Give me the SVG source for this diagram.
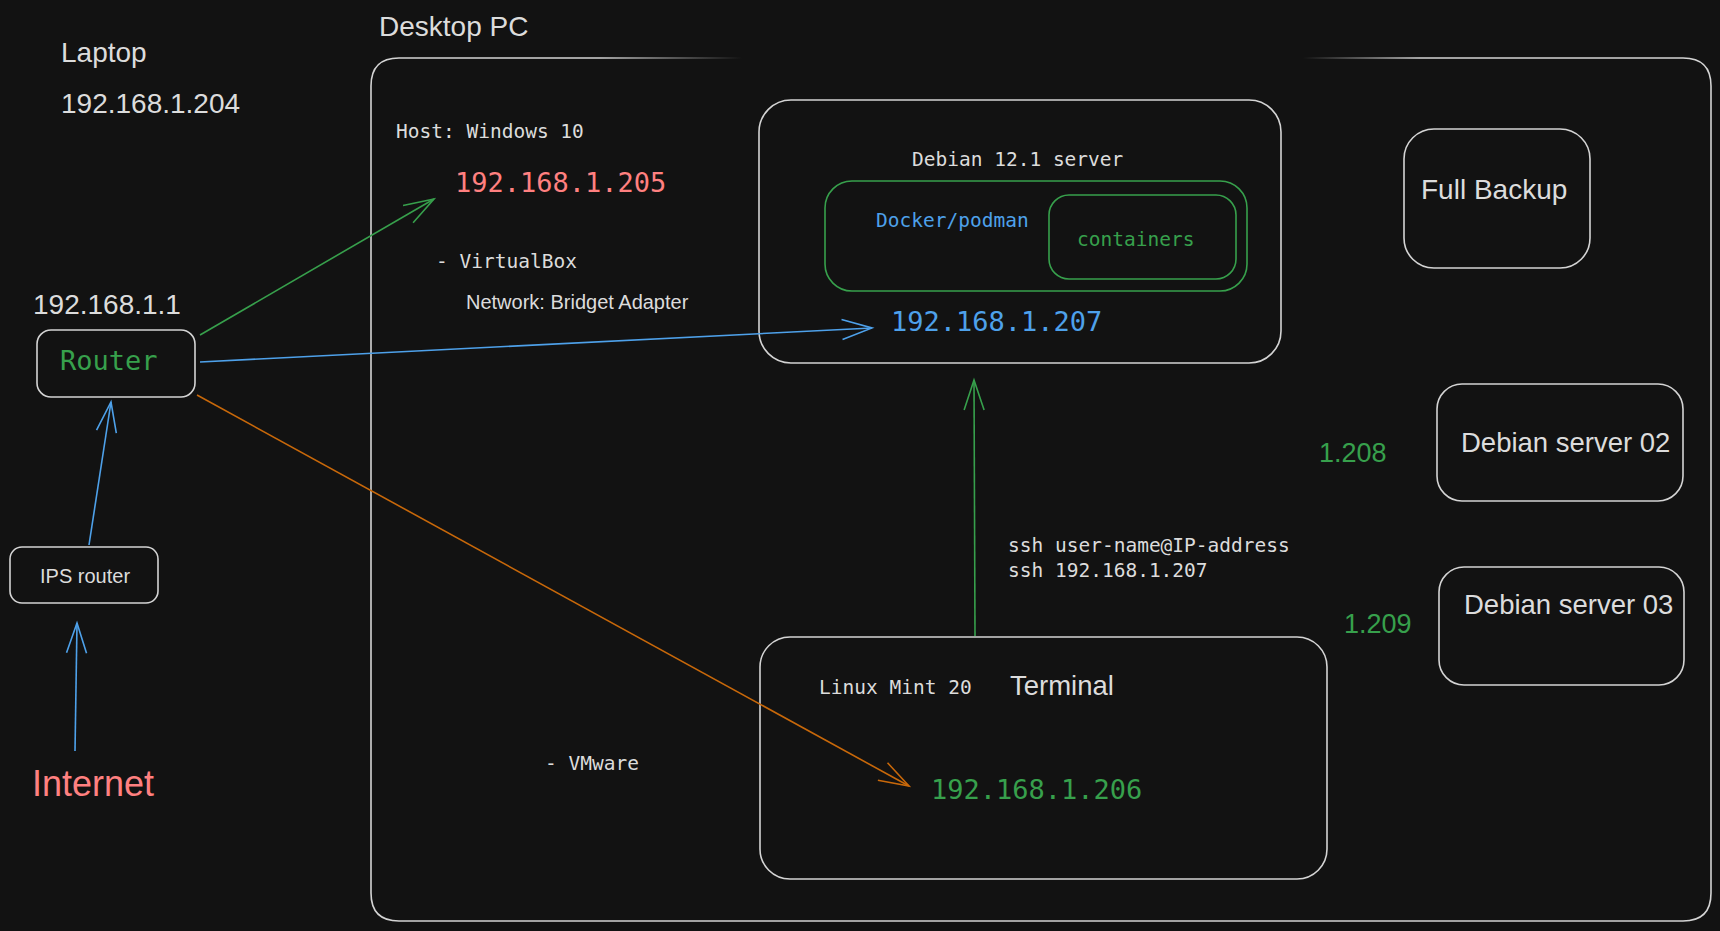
<svg xmlns="http://www.w3.org/2000/svg" width="1720" height="931" viewBox="0 0 1720 931">
<defs>
<style>
.box{fill:none;stroke:#d4d4d4;stroke-width:1.6}
.gbox{fill:none;stroke:#37a04c;stroke-width:1.6}
.sans{font-family:"Liberation Sans",Arial,sans-serif;fill:#dcdcdc}
.mono{font-family:"DejaVu Sans Mono","Liberation Mono",monospace;fill:#dcdcdc}
.ip{font-size:27px}
.small{font-size:19.5px}
.big{font-size:28px}
.mid{font-size:27.5px}
.green{fill:#37a04c}
.blue{fill:#4ea1ea}
.red{fill:#ff8080}
.c{fill:none;stroke-width:1.6}
</style>
<marker id="hb" markerUnits="userSpaceOnUse" markerWidth="34" markerHeight="26" viewBox="-31 -13 34 26" refX="0" refY="0" orient="auto">
<path d="M-30,-10 L0,0 L-30,10" fill="none" stroke="#4ea1ea" stroke-width="1.6"/>
</marker>
<marker id="hg" markerUnits="userSpaceOnUse" markerWidth="34" markerHeight="26" viewBox="-31 -13 34 26" refX="0" refY="0" orient="auto">
<path d="M-30,-10 L0,0 L-30,10" fill="none" stroke="#37a04c" stroke-width="1.6"/>
</marker>
<marker id="ho" markerUnits="userSpaceOnUse" markerWidth="34" markerHeight="26" viewBox="-31 -13 34 26" refX="0" refY="0" orient="auto">
<path d="M-30,-10 L0,0 L-30,10" fill="none" stroke="#c8680a" stroke-width="1.6"/>
</marker>
<linearGradient id="fadeOut" gradientUnits="userSpaceOnUse" x1="600" y1="0" x2="742" y2="0">
<stop offset="0" stop-color="#d4d4d4"/><stop offset="1" stop-color="#d4d4d4" stop-opacity="0"/>
</linearGradient>
<linearGradient id="fadeIn" gradientUnits="userSpaceOnUse" x1="1303" y1="0" x2="1420" y2="0">
<stop offset="0" stop-color="#d4d4d4" stop-opacity="0"/><stop offset="1" stop-color="#d4d4d4"/>
</linearGradient>
</defs>
<rect width="1720" height="931" fill="#121212"/>

<g id="laptop">
<text class="sans big" x="61" y="62">Laptop</text>
<text class="sans big" x="61" y="113">192.168.1.204</text>
</g>

<g id="desktop-pc">
<text class="sans big" x="379" y="36">Desktop PC</text>
<path class="box" d="M600,58 L399,58 Q371,58 371,86 L371,893 Q371,921 399,921 L1683,921 Q1711,921 1711,893 L1711,86 Q1711,58 1683,58 L1420,58"/>
<line x1="600" y1="58" x2="742" y2="58" stroke="url(#fadeOut)" stroke-width="1.6"/>
<line x1="1303" y1="58" x2="1420" y2="58" stroke="url(#fadeIn)" stroke-width="1.6"/>
</g>

<g id="host-windows">
<text class="mono small" x="396" y="138">Host: Windows 10</text>
<text class="mono ip red" x="455" y="192">192.168.1.205</text>
<text class="mono small" x="436" y="268">- VirtualBox</text>
<text class="sans" style="font-size:20px" x="466" y="309">Network: Bridget Adapter</text>
<text class="mono small" x="545" y="770">- VMware</text>
</g>

<g id="debian-server">
<rect class="box" x="759" y="100" width="522" height="263" rx="32"/>
<text class="mono small" x="912" y="166">Debian 12.1 server</text>
<text class="mono ip blue" x="891" y="331">192.168.1.207</text>
</g>

<g id="docker">
<rect class="gbox" x="825" y="181" width="422" height="110" rx="27"/>
<text class="mono small blue" x="876" y="227">Docker/podman</text>
</g>

<g id="containers">
<rect class="gbox" x="1049" y="195" width="187" height="84" rx="20"/>
<text class="mono small green" x="1077" y="246">containers</text>
</g>

<g id="full-backup">
<rect class="box" x="1404" y="129" width="186" height="139" rx="30"/>
<text class="sans big" x="1421" y="199">Full Backup</text>
</g>

<g id="router">
<text class="sans big" x="33" y="314">192.168.1.1</text>
<rect class="box" x="37" y="330" width="158" height="67" rx="14"/>
<text class="mono ip green" x="60" y="370">Router</text>
</g>

<g id="ips-router">
<rect class="box" x="10" y="547" width="148" height="56" rx="12"/>
<text class="sans" style="font-size:20px" x="40" y="583">IPS router</text>
</g>

<g id="internet">
<text class="sans red" style="font-size:36px" x="32" y="796">Internet</text>
</g>

<g id="linux-mint">
<rect class="box" x="760" y="637" width="567" height="242" rx="30"/>
<text class="mono small" x="819" y="694">Linux Mint 20</text>
<text class="sans mid" x="1010" y="695">Terminal</text>
<text class="mono ip green" x="931" y="799">192.168.1.206</text>
</g>

<g id="ssh-note">
<text class="mono small" x="1008" y="552">ssh user-name@IP-address</text>
<text class="mono small" x="1008" y="577">ssh 192.168.1.207</text>
</g>

<g id="debian-server-02">
<text class="sans green" style="font-size:27px" x="1319" y="462">1.208</text>
<rect class="box" x="1437" y="384" width="246" height="117" rx="25"/>
<text class="sans mid" x="1461" y="452">Debian server 02</text>
</g>

<g id="debian-server-03">
<text class="sans green" style="font-size:27px" x="1344" y="633">1.209</text>
<rect class="box" x="1439" y="567" width="245" height="118" rx="25"/>
<text class="sans mid" x="1464" y="614">Debian server 03</text>
</g>

<g id="connectors">
<line class="c" x1="75" y1="751" x2="77" y2="623" stroke="#4ea1ea" marker-end="url(#hb)"/>
<line class="c" x1="89" y1="545" x2="111" y2="402" stroke="#4ea1ea" marker-end="url(#hb)"/>
<line class="c" x1="200" y1="335" x2="434" y2="199" stroke="#37a04c" marker-end="url(#hg)"/>
<line class="c" x1="200" y1="362" x2="872" y2="328" stroke="#4ea1ea" marker-end="url(#hb)"/>
<line class="c" x1="197" y1="395" x2="909" y2="786" stroke="#c8680a" marker-end="url(#ho)"/>
<line class="c" x1="975" y1="636" x2="974" y2="380" stroke="#37a04c" marker-end="url(#hg)"/>
</g>
</svg>
